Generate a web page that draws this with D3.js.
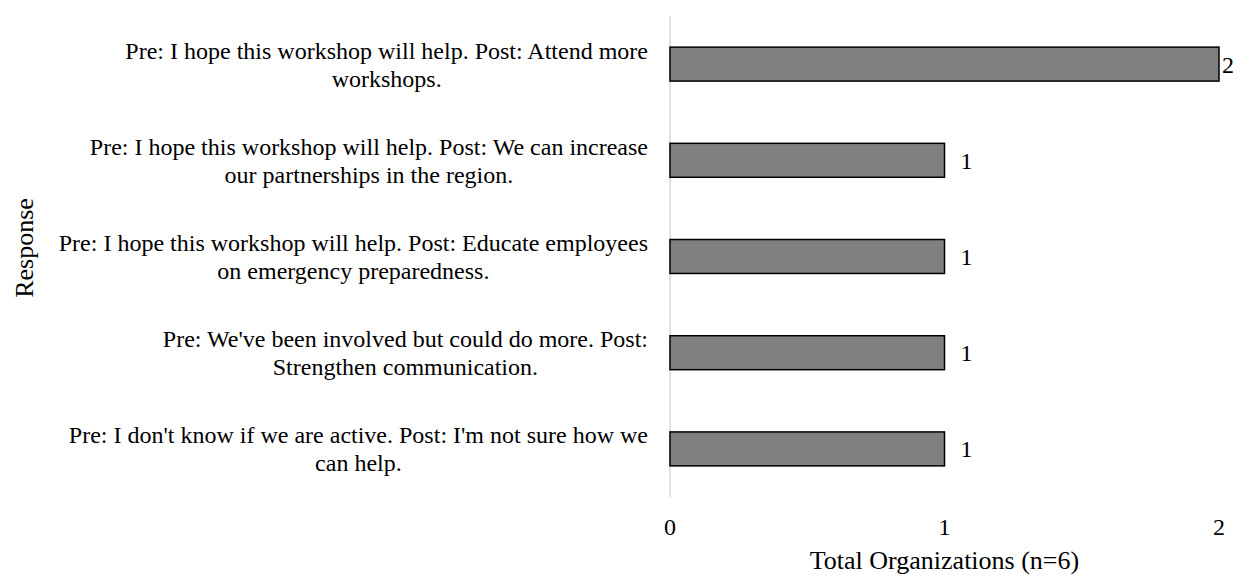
<!DOCTYPE html>
<html>
<head>
<meta charset="utf-8">
<script src="https://cdn.jsdelivr.net/npm/d3@7"></script>
<style>
  body { margin: 0; background: #fff; }
  text { font-family: "Liberation Serif", "Times New Roman", serif; fill: #000; }
</style>
</head>
<body>
<div id="chart"></div>
<script>
// categories (line breaks as in the original labels)
const categories = [
    "Pre: I hope this workshop will help. Post: Attend more\nworkshops.",
    "Pre: I hope this workshop will help. Post: We can increase\nour partnerships in the region.",
    "Pre: I hope this workshop will help. Post: Educate employees\non emergency preparedness.",
    "Pre: We've been involved but could do more. Post:\nStrengthen communication.",
    "Pre: I don't know if we are active. Post: I'm not sure how we\ncan help."
];
const counts = [2, 1, 1, 1, 1];
const xTicks = [0, 1, 2];
const xTitle = "Total Organizations (n=6)";
const yTitle = "Response";

const width = 1238;
const height = 576;
const margin = { top: 16, right: 19, bottom: 79, left: 670 };

const svg = d3.select("#chart")
    .append("svg")
    .attr("width", width)
    .attr("height", height);

const x = d3.scaleLinear()
    .domain([0, 2])
    .range([margin.left, width - margin.right]);

const y = d3.scaleBand()
    .domain(categories)
    .range([margin.top, height - margin.bottom])
    .paddingInner(0.647)
    .paddingOuter(0.3235);

// vertical axis line
svg.append("line")
    .attr("x1", x(0)).attr("x2", x(0))
    .attr("y1", margin.top).attr("y2", height - margin.bottom)
    .attr("stroke", "#d9d9d9")
    .attr("stroke-width", 1.5);

// bars
svg.selectAll(".bar")
    .data(counts)
    .enter()
    .append("rect")
    .attr("class", "bar")
    .attr("x", x(0))
    .attr("y", (_, i) => y(categories[i]))
    .attr("width", d => x(d) - x(0))
    .attr("height", y.bandwidth())
    .attr("fill", "#808080")
    .attr("stroke", "#000")
    .attr("stroke-width", 1.5);

// value labels (the one at the edge gets pushed in, like Excel does)
svg.selectAll(".val")
    .data(counts)
    .enter()
    .append("text")
    .attr("class", "val")
    .attr("x", d => Math.min(x(d) + 16, width - 16))
    .attr("y", (_, i) => y(categories[i]) + y.bandwidth() / 2)
    .attr("dy", "0.35em")
    .style("font-size", "24px")
    .text(d => d);

// category labels, centered block, right aligned to the axis
const labelRight = 648;
const lineH = 28;
categories.forEach(c => {
    const lines = c.split("\n");
    const g = svg.append("g");
    const t = g.append("text")
        .attr("text-anchor", "middle")
        .style("font-size", "24px");
    lines.forEach((ln, j) => {
        t.append("tspan")
            .attr("x", 0)
            .attr("y", y(c) + y.bandwidth() / 2 + (j - (lines.length - 1) / 2) * lineH)
            .attr("dy", "0.35em")
            .text(ln);
    });
    const w = t.node().getBBox().width;
    g.attr("transform", `translate(${labelRight - w / 2},0)`);
});

// x tick labels
svg.selectAll(".tick-label")
    .data(xTicks)
    .enter()
    .append("text")
    .attr("class", "tick-label")
    .attr("x", d => x(d))
    .attr("y", 535)
    .attr("text-anchor", "middle")
    .style("font-size", "24px")
    .text(d => d);

// axis titles
svg.append("text")
    .attr("x", (x.range()[0] + x.range()[1]) / 2)
    .attr("y", 569)
    .attr("text-anchor", "middle")
    .style("font-size", "26px")
    .text(xTitle);

svg.append("text")
    .attr("transform", "translate(33,248) rotate(-90)")
    .attr("text-anchor", "middle")
    .style("font-size", "26px")
    .text(yTitle);
</script>
</body>
</html>
